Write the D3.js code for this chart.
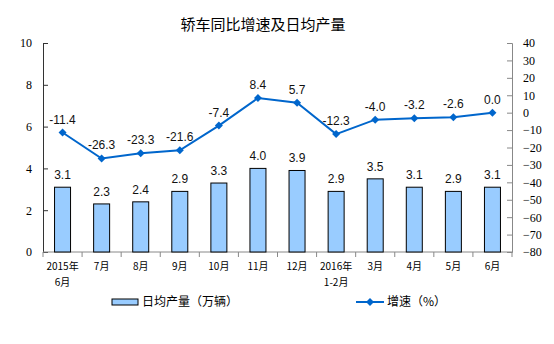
<!DOCTYPE html>
<html><head><meta charset="utf-8">
<script src="https://cdn.jsdelivr.net/npm/d3@7"></script>
<style>body{margin:0;background:#fff}</style>
</head><body>
<svg id="c" width="554" height="344"></svg>
<script>
const categories = [["2015年","6月"],["7月"],["8月"],["9月"],["10月"],["11月"],["12月"],["2016年","1-2月"],["3月"],["4月"],["5月"],["6月"]];
const dailyOutput = [3.1,2.3,2.4,2.9,3.3,4.0,3.9,2.9,3.5,3.1,2.9,3.1];
const growth = [-11.4,-26.3,-23.3,-21.6,-7.4,8.4,5.7,-12.3,-4.0,-3.2,-2.6,0.0];
const leftTicks = [0,2,4,6,8,10];
const rightTicks = [40,30,20,10,0,-10,-20,-30,-40,-50,-60,-70,-80];

const svg = d3.select("#c");
const L = 43, R = 512, T = 43, B = 252;
const idx = categories.map((d,i)=>i);
const x = d3.scaleBand().domain(idx).range([L,R]);
const yL = d3.scaleLinear().domain([0,10]).range([B,T]);
const yR = d3.scaleLinear().domain([-80,40]).range([B,T]);

svg.append("text").attr("x",263).attr("y",30).attr("text-anchor","middle")
  .attr("font-family","'Noto Sans CJK SC'").attr("font-size",15).text("轿车同比增速及日均产量");

// left axis
const gl = svg.append("g").attr("transform",`translate(${L},0)`)
  .call(d3.axisLeft(yL).tickValues(leftTicks).tickSize(-5).tickPadding(11).tickFormat(d3.format("d")));
gl.select(".domain").attr("stroke","#333");
gl.selectAll(".tick line").attr("stroke","#333");
gl.selectAll("text").attr("font-family","'Liberation Serif'").attr("font-size",12).attr("fill","#000");

// right axis
const gr = svg.append("g").attr("transform",`translate(${R},0)`)
  .call(d3.axisRight(yR).tickValues(rightTicks).tickSize(-5).tickPadding(11).tickFormat(d3.format("d")));
gr.select(".domain").attr("stroke","#888");
gr.selectAll(".tick line").attr("stroke","#888");
gr.selectAll("text").attr("font-family","'Liberation Serif'").attr("font-size",12).attr("fill","#000");

// bottom axis
svg.append("line").attr("x1",L).attr("x2",R).attr("y1",B).attr("y2",B).attr("stroke","#888");
svg.selectAll(".xt").data(d3.range(13)).enter().append("line")
  .attr("x1",d=>L+d*x.step()).attr("x2",d=>L+d*x.step()).attr("y1",B).attr("y2",B+5).attr("stroke","#888");

// bars
const bw = 16;
svg.selectAll(".bar").data(dailyOutput).enter().append("rect")
  .attr("x",(d,i)=>x(i)+x.bandwidth()/2-bw/2).attr("width",bw)
  .attr("y",d=>yL(d)).attr("height",d=>B-yL(d))
  .attr("fill","#99CCFF").attr("stroke","#000").attr("stroke-width",1);
svg.selectAll(".bl").data(dailyOutput).enter().append("text")
  .attr("x",(d,i)=>x(i)+x.bandwidth()/2).attr("y",d=>yL(d)-8)
  .attr("text-anchor","middle").attr("font-family","'Liberation Sans'").attr("font-size",12).attr("fill","#111")
  .text(d=>d.toFixed(1));

// line
const line = d3.line().x((d,i)=>x(i)+x.bandwidth()/2).y(d=>yR(d));
svg.append("path").datum(growth).attr("d",line).attr("fill","none").attr("stroke","#0066CC").attr("stroke-width",2);
svg.selectAll(".pt").data(growth).enter().append("path")
  .attr("transform",(d,i)=>`translate(${x(i)+x.bandwidth()/2},${yR(d)})`)
  .attr("d","M0,-4L4,0L0,4L-4,0Z").attr("fill","#0066CC");
svg.selectAll(".gl").data(growth).enter().append("text")
  .attr("x",(d,i)=>x(i)+x.bandwidth()/2).attr("y",d=>yR(d)-9)
  .attr("text-anchor","middle").attr("font-family","'Liberation Sans'").attr("font-size",12).attr("fill","#111")
  .text(d=>d.toFixed(1));

// x labels
categories.forEach((lines,i)=>{
  lines.forEach((t,j)=>{
    svg.append("text").attr("x",x(i)+x.bandwidth()/2).attr("y",270+j*16)
      .attr("text-anchor","middle").attr("font-family","'Noto Sans CJK SC'").attr("font-size",10)
      .attr("fill","#000").text(t);
  });
});

// legend
svg.append("rect").attr("x",112).attr("y",299).attr("width",26).attr("height",6)
  .attr("fill","#99CCFF").attr("stroke","#000");
svg.append("text").attr("x",142).attr("y",306).attr("font-family","'Noto Sans CJK SC'").attr("font-size",12).text("日均产量（万辆）");
svg.append("line").attr("x1",356).attr("x2",384).attr("y1",302).attr("y2",302).attr("stroke","#0066CC").attr("stroke-width",2);
svg.append("path").attr("transform","translate(370,302)").attr("d","M0,-4L4,0L0,4L-4,0Z").attr("fill","#0066CC");
svg.append("text").attr("x",387).attr("y",306).attr("font-family","'Noto Sans CJK SC'").attr("font-size",12).text("增速（%）");
</script>
</body></html>
